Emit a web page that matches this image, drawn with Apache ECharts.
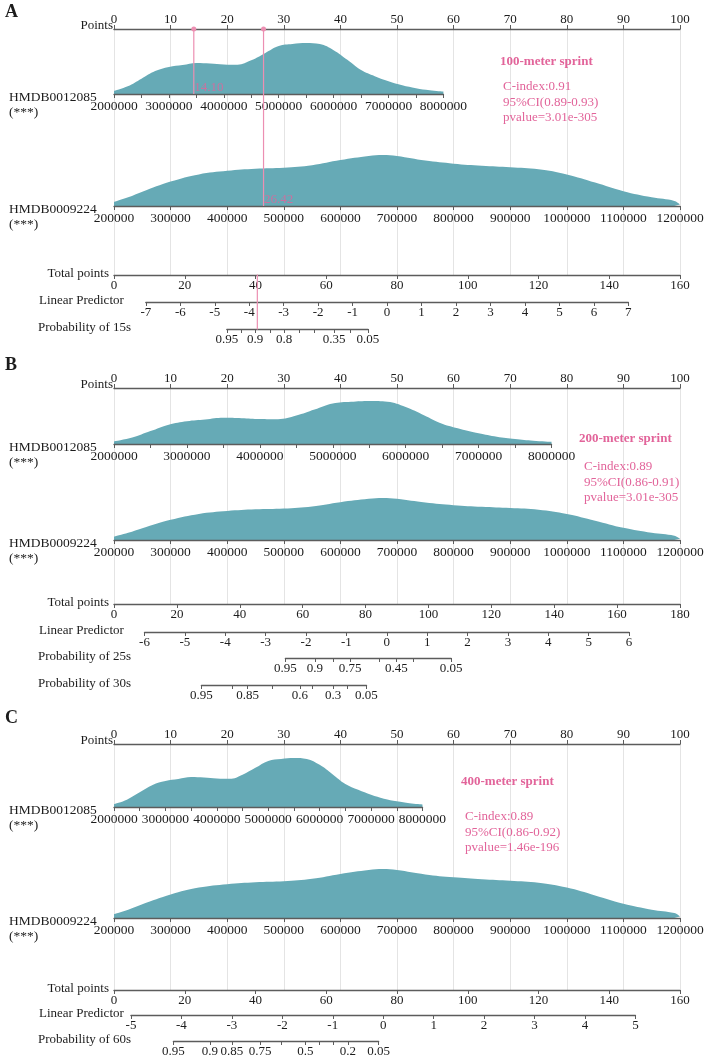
<!DOCTYPE html>
<html>
<head>
<meta charset="utf-8">
<script src="https://cdn.jsdelivr.net/npm/echarts@6/dist/echarts.min.js"></script>
<style>
  html, body { margin: 0; background: #fff; }
  #chart { width: 709px; height: 1060px; }
</style>
</head>
<body>
<div id="chart"></div>
<script>
// ---- data ----
const panelLetters = ['A', 'B', 'C'];
const sprintNames = ['100-meter sprint', '200-meter sprint', '400-meter sprint'];
const cIndexes = ['0.91', '0.89', '0.89'];
const ciRanges = ['0.89-0.93', '0.86-0.91', '0.86-0.92'];
const pValues = ['3.01e-305', '3.01e-305', '1.46e-196'];
const varNames = ['HMDB0012085', 'HMDB0009224'];

// density of HMDB0012085 (relative height)
const dens12085X = [2000000, 2250000, 2500000, 2750000, 3000000, 3250000, 3500000, 3750000, 4000000,
  4250000, 4500000, 4750000, 5000000, 5250000, 5500000, 5750000, 6000000, 6250000, 6500000,
  6750000, 7000000, 7250000, 7500000, 7750000, 8000000];
const dens12085Y = [0.06, 0.15, 0.30, 0.45, 0.53, 0.57, 0.61, 0.60, 0.58, 0.575, 0.66, 0.80, 0.94,
  0.98, 1.0, 0.98, 0.86, 0.67, 0.47, 0.35, 0.25, 0.17, 0.115, 0.075, 0.05];

// density of HMDB0009224 (relative height)
const dens9224X = [200000, 225000, 250000, 300000, 350000, 400000, 450000, 500000, 550000, 600000,
  650000, 675000, 700000, 750000, 800000, 850000, 900000, 950000, 1000000, 1050000, 1100000,
  1150000, 1190000, 1200000];
const dens9224Y = [0.08, 0.17, 0.28, 0.48, 0.62, 0.69, 0.73, 0.75, 0.80, 0.90, 0.98, 1.0, 0.98,
  0.89, 0.83, 0.79, 0.76, 0.72, 0.62, 0.46, 0.29, 0.17, 0.10, 0.03];

// points reached at the top value of each variable axis (bottom value = 0 points)
const maxPts12085 = [58.2, 77.3, 54.5];
const maxPts9224 = [100, 100, 100];

const totalMax = [160, 180, 160];
const lpMin = [-7, -6, -5];
const lpMax = [7, 6, 5];
const lpTotalAtMin = [9.0, 9.7, 4.8];
const lpTotalAtMax = [145.4, 163.8, 147.4];

// probability scales: total points of each tick, and its label ('' = tick only)
const prob15Totals = [31.9, 35.9, 39.9, 44.1, 48.1, 52.3, 56.5, 62.2, 66.7, 71.8];
const prob15Labels = ['0.95', '', '0.9', '', '0.8', '', '', '0.35', '', '0.05'];
const prob25Totals = [54.5, 63.9, 69.7, 75.1, 84.4, 89.8, 95.3, 107.2];
const prob25Labels = ['0.95', '0.9', '', '0.75', '', '0.45', '', '0.05'];
const prob30Totals = [27.8, 37.5, 42.5, 50.2, 59.1, 63.2, 69.7, 74.3, 80.3];
const prob30Labels = ['0.95', '', '0.85', '', '0.6', '', '0.3', '', '0.05'];
const prob60Totals = [16.8, 27.1, 33.3, 41.3, 47.2, 54.1, 58.1, 61.9, 66.1, 74.8];
const prob60Labels = ['0.95', '0.9', '0.85', '0.75', '', '0.5', '', '', '0.2', '0.05'];

const probScales = [
  [['Probability of 15s', prob15Totals, prob15Labels]],
  [['Probability of 25s', prob25Totals, prob25Labels], ['Probability of 30s', prob30Totals, prob30Labels]],
  [['Probability of 60s', prob60Totals, prob60Labels]]
];

// example patient in panel A
const markerPts = [14.10, 26.42];
const markerTotal = 40.52;

// ---- layout ----
const FONT = "'Liberation Serif', 'Times New Roman', serif";
const X0 = 114, W = 566;
const AXIS = '#5c5c5c';
const TEAL = '#66aab6';
const PINK = '#e2649a';
const PINK_LINE = '#ec8fb2';

const layout = [
  { letter: 12, points: 29, d1: 94, d1h: 51, d2: 206, d2h: 51, total: 275, lp: 302, prob: [329],
    note: [500, 62, 503, 87] },
  { letter: 365, points: 388, d1: 444, d1h: 43, d2: 540, d2h: 42, total: 604, lp: 632, prob: [658, 685],
    note: [579, 439, 584, 467] },
  { letter: 718, points: 744, d1: 807, d1h: 49, d2: 918, d2h: 49, total: 990, lp: 1015, prob: [1041],
    note: [461, 782, 465, 817] }
];

const grids = [], xAxes = [], yAxes = [], series = [], graphics = [];

function merge(a, b) {
  const out = Object.assign({}, a);
  for (const k in b) {
    if (b[k] && typeof b[k] === 'object' && !Array.isArray(b[k]) && typeof a[k] === 'object') {
      out[k] = merge(a[k], b[k]);
    } else {
      out[k] = b[k];
    }
  }
  return out;
}

function axisStyle(extra) {
  return merge({
    type: 'value',
    z: 3,
    axisLine: { show: true, onZero: false, lineStyle: { color: AXIS, width: 1.4 } },
    axisTick: { show: true, length: 4, lineStyle: { color: AXIS, width: 1 } },
    axisLabel: { color: '#1c1c1c', fontFamily: FONT, fontSize: 13, margin: 4, formatter: v => String(v) },
    splitLine: { show: false }
  }, extra);
}

function addRow(grid, xAxis, yAxis) {
  grids.push(grid);
  const i = grids.length - 1;
  xAxes.push(Object.assign({ gridIndex: i }, xAxis));
  yAxes.push(Object.assign({ gridIndex: i, type: 'value', show: false, min: 0, max: 1 }, yAxis || {}));
  return i;
}

function text(str, x, y, opts) {
  opts = opts || {};
  const align = opts.align || 'left';
  graphics.push({
    type: 'text', x: x, y: y, silent: true, z: 10,
    style: {
      text: str,
      font: (opts.bold ? 'bold ' : '') + (opts.size || 13) + 'px ' + FONT,
      fill: opts.color || '#1c1c1c',
      align: align, verticalAlign: 'middle',
      textAlign: align, textVerticalAlign: 'middle'
    }
  });
}

function densityRow(base, h, maxPts, minV, maxV, interval, minor, xs, ys) {
  const gi = addRow(
    { left: X0, width: maxPts / 100 * W, top: base - h, height: h },
    axisStyle({
      position: 'bottom', min: minV, max: maxV, interval: interval,
      axisLabel: { fontSize: 13.5, margin: 5 },
      minorTick: { show: minor, splitNumber: 2, length: 4, lineStyle: { color: AXIS, width: 1 } }
    })
  );
  series.push({
    type: 'line', xAxisIndex: gi, yAxisIndex: gi, silent: true,
    data: xs.map((x, i) => [x, ys[i]]),
    smooth: 0.4, symbol: 'none',
    lineStyle: { width: 0 }, areaStyle: { color: TEAL, opacity: 1 }, z: 2
  });
}

panelLetters.forEach((letter, p) => {
  const L = layout[p];
  const tMax = totalMax[p];
  const xTot = v => X0 + v / tMax * W;

  text(letter, 5, L.letter, { bold: true, size: 18 });

  // Points axis with the vertical guide lines (kept behind the densities)
  const gp = addRow(
    { left: X0, width: W, top: L.points, height: L.total - L.points },
    axisStyle({
      z: 0,
      position: 'top', min: 0, max: 100, interval: 10,
      axisLabel: { margin: 3 },
      splitLine: { show: true, lineStyle: { color: '#e4e4e4', width: 1 } }
    }),
    { max: L.total - L.points, inverse: true }
  );
  text('Points', X0 - 1, L.points - 3, { align: 'right' });

  // variable rows
  densityRow(L.d1, L.d1h, maxPts12085[p], 2000000, 8000000, 1000000, true, dens12085X, dens12085Y);
  densityRow(L.d2, L.d2h, maxPts9224[p], 200000, 1200000, 100000, false, dens9224X, dens9224Y);
  text(varNames[0], 9, L.d1 + 3, { size: 13.5 });
  text('(***)', 9, L.d1 + 18, { size: 13.5 });
  text(varNames[1], 9, L.d2 + 3, { size: 13.5 });
  text('(***)', 9, L.d2 + 18, { size: 13.5 });

  // total points
  addRow({ left: X0, width: W, top: L.total - 10, height: 10 },
    axisStyle({ position: 'bottom', min: 0, max: tMax, interval: 20 }));
  text('Total points', 109, L.total - 1, { align: 'right' });

  // linear predictor
  const lpLeft = xTot(lpTotalAtMin[p]);
  addRow({ left: lpLeft, width: xTot(lpTotalAtMax[p]) - lpLeft, top: L.lp - 10, height: 10 },
    axisStyle({ position: 'bottom', min: lpMin[p], max: lpMax[p], interval: 1 }));
  text('Linear Predictor', 39, L.lp - 1);

  // probability scales
  probScales[p].forEach((ps, k) => {
    const [name, totals, labels] = ps;
    const y = L.prob[k];
    const left = xTot(totals[0]);
    const labeled = totals.filter((v, i) => labels[i] !== '');
    addRow({ left: left, width: xTot(totals[totals.length - 1]) - left, top: y - 10, height: 10 },
      axisStyle({
        position: 'bottom', min: totals[0], max: totals[totals.length - 1],
        axisTick: { customValues: totals },
        axisLabel: {
          customValues: labeled,
          formatter: v => {
            let best = 0;
            totals.forEach((t, i) => { if (Math.abs(t - v) < Math.abs(totals[best] - v)) best = i; });
            return labels[best];
          }
        }
      }));
    text(name, 38, y - 1);
  });

  // model summary
  const [tx, ty, sx, sy] = L.note;
  text(sprintNames[p], tx, ty, { bold: true, color: PINK });
  text('C-index:' + cIndexes[p], sx, sy, { color: PINK });
  text('95%CI(' + ciRanges[p] + ')', sx, sy + 16, { color: PINK });
  text('pvalue=' + pValues[p], sx, sy + 31, { color: PINK });

  // example patient (panel A only)
  if (p === 0) {
    const ends = [L.d1 - L.points, L.d2 - L.points];
    markerPts.forEach((v, i) => {
      series.push({
        type: 'line', xAxisIndex: gp, yAxisIndex: gp, silent: true, z: 8,
        data: [{ value: [v, 0], symbol: 'circle', symbolSize: 5 }, { value: [v, ends[i]], symbol: 'none' }],
        lineStyle: { color: PINK_LINE, width: 1.2 }, itemStyle: { color: PINK_LINE }
      });
      series.push({
        type: 'scatter', xAxisIndex: gp, yAxisIndex: gp, silent: true, z: 8,
        data: [[v, ends[i] - 6]], symbolSize: 1, itemStyle: { color: 'transparent' },
        label: { show: true, position: 'right', distance: 0, formatter: v.toFixed(2),
          color: PINK, fontFamily: FONT, fontSize: 13 }
      });
    });
    const h = L.prob[0] - L.total;
    const go = addRow({ left: X0, width: W, top: L.total, height: h },
      { type: 'value', show: false, min: 0, max: tMax },
      { max: h, inverse: true });
    series.push({
      type: 'line', xAxisIndex: go, yAxisIndex: go, silent: true, z: 8,
      data: [
        { value: [markerTotal, -2], symbol: 'triangle', symbolRotate: 180, symbolSize: 6,
          label: { show: true, position: 'top', distance: 2, formatter: markerTotal.toFixed(2),
            color: PINK, fontFamily: FONT, fontSize: 13 } },
        { value: [markerTotal, h + 2], symbol: 'none' }
      ],
      lineStyle: { color: PINK_LINE, width: 1.2 }, itemStyle: { color: PINK_LINE }
    });
  }
});

const chart = echarts.init(document.getElementById('chart'), null, { renderer: 'canvas' });
chart.setOption({
  animation: false,
  backgroundColor: '#ffffff',
  grid: grids,
  xAxis: xAxes,
  yAxis: yAxes,
  series: series,
  graphic: { elements: graphics }
});
window.addEventListener('resize', () => chart.resize());
</script>
</body>
</html>
